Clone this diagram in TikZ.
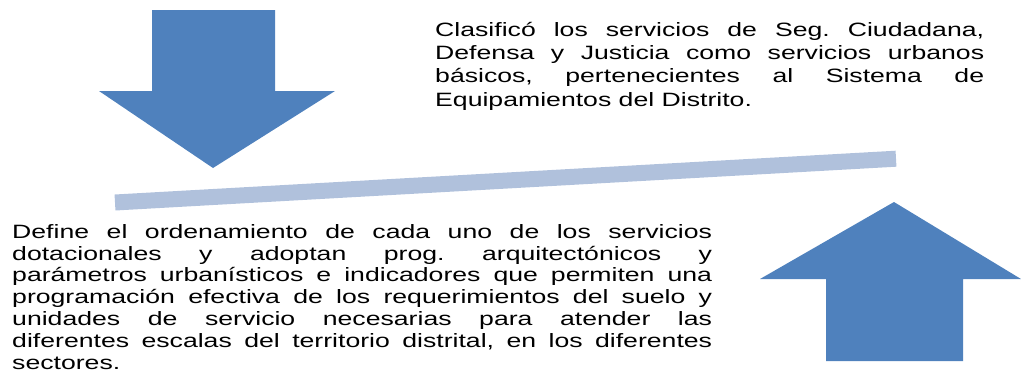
\documentclass[tikz,border=0pt]{standalone}
\usepackage{fontspec}
\setmainfont{Liberation Sans}
\frenchspacing
\definecolor{arrowblue}{HTML}{4F81BD}
\definecolor{barblue}{HTML}{B0C1DC}
\newcommand{\jline}[2]{\makebox[#1][s]{#2}\par}
\begin{document}
\begin{tikzpicture}[x=1pt,y=-1pt,
  bigarrow/.style={fill=arrowblue,draw=none},
  txt/.style={inner sep=0pt,anchor=base west}]
\useasboundingbox (0,0) rectangle (1021,373);
% down arrow
\fill[bigarrow] (152,10) -- (275,10) -- (275,91) -- (335,91) -- (213,168) -- (99,91) -- (152,91) -- cycle;
% up arrow
\fill[bigarrow] (826,361) -- (963,361) -- (963,279) -- (1021,279) -- (894,202) -- (760,279) -- (826,279) -- cycle;
% bar
\coordinate (barL) at (115,202.5);
\coordinate (barR) at (896,158.7);
\draw[barblue,line width=16] (barL) -- (barR);
% top text
\node[txt] (toptext) at (435,36.5) {\scalebox{1.38}[1]{\parbox[t]{397.8pt}{\fontsize{19.3}{23.2}\selectfont
\jline{397.8pt}{Clasificó los servicios de Seg. Ciudadana,}
\jline{397.8pt}{Defensa y Justicia como servicios urbanos}
\jline{397.8pt}{básicos, pertenecientes al Sistema de}
Equipamientos del Distrito.}}};
% bottom text
\node[txt] (bottext) at (12,238.2) {\scalebox{1.38}[1]{\parbox[t]{507.2pt}{\fontsize{19.3}{21.8}\selectfont
\jline{507.2pt}{Define el ordenamiento de cada uno de los servicios}
\jline{507.2pt}{dotacionales y adoptan prog. arquitectónicos y}
\jline{507.2pt}{parámetros urbanísticos e indicadores que permiten una}
\jline{507.2pt}{programación efectiva de los requerimientos del suelo y}
\jline{507.2pt}{unidades de servicio necesarias para atender las}
\jline{507.2pt}{diferentes escalas del territorio distrital, en los diferentes}
sectores.}}};
\end{tikzpicture}
\end{document}
